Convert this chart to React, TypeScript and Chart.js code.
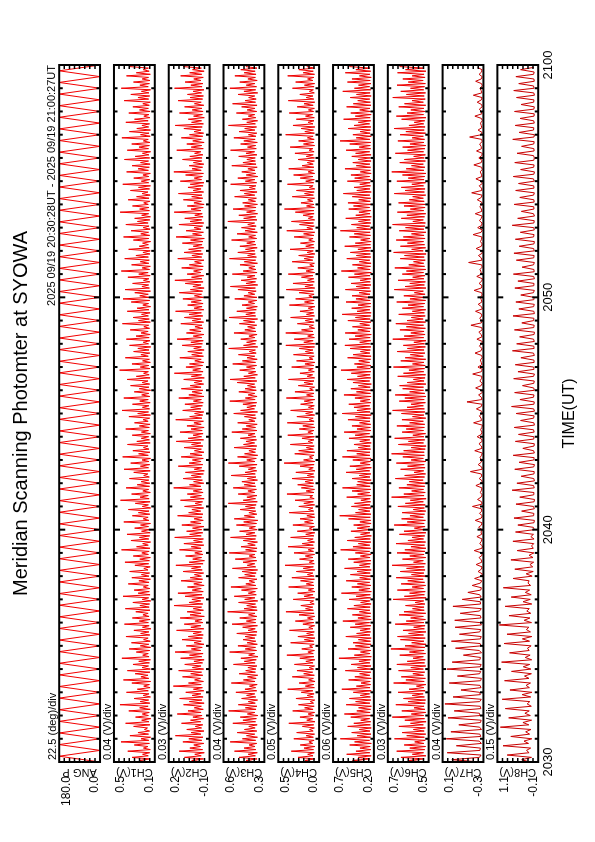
import React, { useEffect, useRef } from 'react';
import { Chart, registerables } from 'chart.js';

Chart.register(...registerables);

const FONT = '"Liberation Sans", Arial, Helvetica, sans-serif';

const TITLE = 'Meridian Scanning Photomter at SYOWA';
const PERIOD = '2025 09/19 20:30:28UT - 2025 09/19 21:00:27UT';
const TIME_AXIS_TITLE = 'TIME(UT)';

// time axis in minutes after 20:30 UT
const TIME_MIN = 0;
const TIME_MAX = 30;
const TIME_TICK_VALUES = [0, 10, 20, 30];
const TIME_TICK_LABELS = ['2030', '2040', '2050', '2100'];

const PANEL_NAMES = ['ANG P', 'CH1(V)', 'CH2(V)', 'CH3(V)', 'CH4(V)', 'CH5(V)', 'CH6(V)', 'CH7(V)', 'CH8(V)'];
const DIV_LABELS = ['22.5 (deg)/div', '0.04 (V)/div', '0.03 (V)/div', '0.04 (V)/div', '0.05 (V)/div', '0.06 (V)/div', '0.03 (V)/div', '0.04 (V)/div', '0.15 (V)/div'];
const AXIS_MIN = [0, 0.14, -0.06, 0.27, 0.04, 0.2, 0.5, -0.26, -0.1];
const AXIS_MAX = [180, 0.46, 0.18, 0.59, 0.44, 0.68, 0.74, 0.06, 1.1];
const TOP_LABELS = ['180.0', '0.5', '0.2', '0.6', '0.5', '0.7', '0.7', '0.1', '1.1'];
const BOTTOM_LABELS = ['0.0', '0.1', '-0.1', '0.3', '0.0', '0.2', '0.5', '-0.3', '-0.1'];
const Y_DIVS = 8;

// scan angle turning points, one every 15 s
const ANG_STEP_SEC = 15;
const ANG_DEG = [
  0,180,0,180,0,180,0,180,0,180,0,180,0,180,0,180,0,180,0,180,
  0,180,0,180,0,180,0,180,0,180,0,180,0,180,0,180,0,180,0,180,
  0,180,0,180,0,180,0,180,0,180,0,180,0,180,0,180,0,180,0,180,
  0,180,0,180,0,180,0,180,0,180,0,180,0,180,0,180,0,180,0,180,
  0,180,0,180,0,180,0,180,0,180,0,180,0,180,0,180,0,180,0,180,
  0,180,0,180,0,180,0,180,0,180,0,180,0,180,0,180,0,180,0,180,
  0,
];

// photometer channels in mV; CH1-CH6 sampled every 4 s, CH7-CH8 every 6 s
const CH_STEP_SEC = [4, 4, 4, 4, 4, 4, 6, 6];
const MV_TO_V = 0.001;

const CH1_MV = [
  184,263,177,318,191,236,180,352,175,229,194,301,182,405,187,248,173,335,189,272,181,221,197,306,178,369,186,243,172,291,
  190,238,183,344,176,259,192,413,179,255,188,303,174,231,185,362,191,277,177,227,182,320,173,386,187,249,193,294,178,355,
  175,240,189,311,182,266,174,398,185,235,191,285,180,341,173,254,187,323,176,228,192,366,179,251,186,304,171,237,184,378,
  190,262,177,316,185,233,192,289,178,371,184,257,181,312,172,239,188,389,177,271,183,302,179,230,191,348,185,265,174,320,
  186,245,181,337,193,226,176,296,188,374,182,258,175,309,190,242,184,401,178,283,191,235,173,327,187,261,180,358,176,244,
  182,298,189,252,174,383,186,231,192,316,179,269,185,347,173,238,190,293,177,409,184,256,191,322,175,234,188,365,181,278,
  179,247,187,339,183,227,194,305,176,381,189,253,180,329,186,240,174,392,191,267,178,312,185,229,193,354,176,281,182,246,
  188,317,175,245,190,368,183,261,177,299,192,232,180,343,174,274,189,397,181,237,186,315,176,258,191,383,179,243,187,301,
  173,262,186,330,180,239,193,357,177,285,184,228,190,416,178,254,187,319,175,236,182,371,191,249,179,306,185,273,172,338,
  189,231,178,363,184,287,176,248,192,333,181,226,188,394,175,268,183,310,190,244,177,356,186,279,173,234,189,325,180,389,
  185,258,191,297,174,373,182,241,188,314,179,229,186,351,176,266,192,403,181,239,175,322,187,254,183,376,190,288,178,233,
  176,345,184,262,190,236,173,308,187,385,180,250,189,326,177,231,185,367,192,276,179,298,174,243,188,412,182,259,186,315,
  191,227,179,349,185,283,176,240,193,331,181,268,174,391,188,246,180,305,187,233,175,361,190,271,183,318,177,252,189,378,
  180,294,186,237,173,356,189,264,182,321,178,230,191,398,176,252,185,339,174,281,188,241,181,367,192,299,179,226,186,344,
  177,260,190,312,183,234,175,380,188,272,180,328,186,245,173,403,191,257,182,307,178,239,189,362,175,285,184,231,190,336,
];

const CH2_MV = [
  -17,45,-24,88,-11,27,-29,119,-19,56,-7,33,-26,97,-14,62,-21,141,-9,49,-27,74,-13,24,-20,105,-8,52,-25,38,
  -16,130,-10,67,-23,30,-12,93,-28,59,-15,116,-22,43,-9,80,-26,35,-18,153,-11,64,-24,28,-7,99,-20,51,-13,122,
  -25,41,-10,86,-19,32,-28,110,-14,58,-22,143,-8,47,-17,77,-27,31,-11,102,-18,65,-23,37,-12,134,-26,50,-9,89,
  -21,26,-15,113,-29,55,-10,72,-24,36,-13,149,-20,61,-8,44,-27,84,-16,126,-23,42,-11,70,-28,33,-14,108,-19,54,
  -12,29,-25,96,-17,46,-9,138,-22,60,-30,39,-13,81,-21,27,-16,117,-10,48,-26,91,-18,34,-24,145,-11,57,-20,75,
  -14,40,-27,103,-10,52,-23,31,-16,128,-21,63,-8,44,-25,87,-13,25,-19,111,-28,53,-12,71,-22,36,-15,151,-9,58,
  -26,34,-18,95,-11,47,-24,82,-29,30,-14,124,-20,60,-10,41,-23,107,-16,55,-27,29,-12,90,-21,46,-9,136,-25,66,
  -13,37,-22,114,-17,49,-28,73,-11,32,-24,139,-15,57,-20,28,-26,98,-9,51,-18,85,-23,35,-12,121,-27,62,-14,43,
  -21,106,-10,54,-25,30,-16,92,-29,47,-13,147,-22,39,-8,79,-19,58,-26,27,-11,115,-24,45,-17,68,-28,33,-12,101,
  -18,50,-23,131,-14,36,-27,76,-10,57,-21,26,-15,109,-25,42,-9,88,-20,61,-12,140,-26,31,-16,69,-22,48,-11,97,
  -24,29,-13,118,-19,53,-28,38,-10,83,-22,144,-15,46,-26,72,-9,34,-18,104,-23,59,-12,28,-27,127,-14,44,-20,90,
  -11,63,-25,36,-16,100,-21,52,-29,137,-13,40,-24,78,-10,31,-19,120,-26,55,-14,86,-22,27,-17,148,-9,49,-23,71,
  -28,32,-12,94,-20,45,-15,123,-25,37,-10,67,-22,54,-27,112,-13,30,-18,81,-24,150,-11,43,-19,60,-26,35,-14,99,
  -16,56,-21,28,-9,133,-23,48,-14,74,-28,39,-12,106,-20,58,-25,31,-10,91,-17,142,-24,46,-13,65,-29,34,-18,117,
  -22,42,-15,87,-26,29,-11,125,-19,55,-24,70,-13,37,-27,146,-16,50,-21,84,-9,33,-23,110,-14,57,-28,40,-12,95,
];

const CH3_MV = [
  334,413,327,469,340,397,325,504,337,429,343,390,330,538,338,442,324,410,345,483,329,426,342,392,326,517,339,438,332,459,
  321,403,344,550,335,419,328,474,341,396,323,448,337,409,345,493,330,422,338,387,326,529,343,434,334,402,322,468,340,416,
  336,399,328,512,342,427,333,454,320,393,346,542,331,420,339,477,325,405,337,437,344,421,332,486,327,398,341,440,324,523,
  338,411,335,463,329,394,343,558,326,429,331,408,339,472,322,424,344,506,333,396,340,449,325,532,337,415,346,390,328,472,
  342,424,334,445,323,520,338,404,345,437,330,498,336,389,343,545,332,417,327,453,341,400,324,435,339,535,333,413,344,464,
  326,389,340,489,331,432,321,506,346,427,329,391,337,460,342,418,334,553,325,436,339,407,328,475,345,399,332,514,338,428,
  343,446,324,403,336,530,341,421,330,396,338,467,327,552,344,408,333,480,322,425,340,391,335,507,329,433,346,414,331,458,
  337,398,343,525,328,443,339,412,326,479,344,392,334,426,340,510,323,456,347,407,336,438,330,541,342,419,327,397,345,470,
  333,421,338,402,346,483,329,539,341,431,324,395,337,463,343,410,331,518,339,442,326,406,345,473,334,388,340,549,322,433,
  339,409,332,455,344,391,327,508,336,423,342,401,330,466,345,433,323,547,338,415,341,486,333,410,325,445,346,396,329,502,
  328,430,345,397,334,477,340,536,322,414,339,452,331,404,343,521,327,436,336,392,344,461,324,427,338,543,332,401,341,478,
  345,418,326,462,337,408,343,527,330,393,339,484,325,421,342,449,334,400,346,556,328,432,337,470,323,409,340,515,335,425,
  324,440,339,396,332,503,345,427,327,461,341,388,336,534,330,419,344,478,322,412,338,447,343,399,326,525,335,438,340,407,
  341,471,328,414,346,535,333,402,338,456,325,431,342,509,336,395,329,468,344,424,331,551,340,408,323,442,337,396,345,489,
  330,405,343,448,327,519,339,421,334,393,345,476,322,430,338,540,331,412,344,463,326,399,340,501,335,428,342,455,328,415,
];

const CH4_MV = [
  91,177,84,247,100,152,87,313,95,188,82,225,103,140,89,288,96,167,85,260,98,134,86,204,93,337,81,161,102,228,
  90,148,84,299,99,182,88,242,94,126,83,267,97,157,89,215,101,348,86,175,92,236,80,143,96,303,87,191,103,257,
  94,138,85,282,99,170,82,229,91,356,97,150,86,210,102,133,88,319,93,185,81,248,95,162,87,330,100,141,84,199,
  92,273,98,154,83,237,89,365,96,173,102,219,88,130,94,294,85,187,99,250,82,146,93,339,90,166,97,222,86,307,
  89,155,101,263,83,196,96,374,87,137,92,232,100,175,84,286,95,148,88,344,97,206,85,153,98,319,91,171,82,254,
  103,136,86,297,94,183,99,227,83,160,87,333,93,144,100,239,84,190,96,276,88,131,102,355,90,167,85,214,98,250,
  92,178,99,305,87,156,94,268,81,142,97,227,89,383,83,192,101,135,91,279,84,240,96,165,88,322,103,148,90,208,
  86,347,100,150,92,234,82,200,95,352,89,139,98,258,84,172,102,319,93,145,87,221,99,186,83,361,97,163,90,277,
  96,133,85,244,101,188,90,340,84,157,103,228,87,145,97,309,91,179,82,261,99,138,88,291,94,175,100,235,85,366,
  83,190,98,284,86,152,93,367,100,212,84,138,96,253,89,176,103,319,85,164,92,228,97,147,81,331,95,183,88,270,
  101,141,89,236,95,362,83,179,98,296,87,154,92,213,100,342,84,168,96,249,90,132,86,304,102,187,93,240,82,158,
  97,325,88,171,94,223,85,142,99,285,91,192,83,357,101,160,87,232,95,311,84,146,98,197,89,273,92,380,86,163,
  90,218,102,154,85,303,96,183,88,262,83,137,99,350,93,171,87,225,100,290,84,148,95,338,91,207,98,156,86,246,
  85,166,97,277,89,139,101,324,84,193,93,241,88,155,99,368,86,180,95,216,82,296,100,149,90,263,87,173,103,333,
  94,145,86,255,98,188,83,342,92,167,100,229,87,136,96,301,89,184,84,270,101,153,91,348,85,196,97,239,88,161,
];

const CH5_MV = [
  237,451,245,386,232,520,248,411,235,364,243,485,230,427,250,595,239,397,234,461,246,373,231,508,242,436,237,355,249,472,
  233,547,244,401,238,380,230,526,247,415,235,488,241,360,250,442,232,577,245,406,238,351,243,497,231,424,248,368,236,536,
  242,393,234,467,247,376,239,611,230,430,245,358,237,504,249,418,233,445,240,382,231,530,246,403,238,362,243,478,235,420,
  250,565,232,388,241,453,236,371,247,511,244,435,233,356,248,492,237,409,242,582,230,377,246,460,235,394,249,526,239,367,
  236,476,243,398,231,545,247,370,240,437,234,502,245,359,232,418,250,591,238,446,248,383,235,514,241,425,230,357,246,470,
  237,396,249,438,233,365,237,498,242,602,234,416,247,380,231,464,245,428,238,353,243,520,233,391,249,457,236,569,244,402,
  240,391,232,456,246,372,235,527,249,408,230,483,244,361,239,448,233,570,247,402,245,517,238,384,243,434,231,366,248,493,
  236,421,250,550,234,399,241,458,237,369,246,505,243,417,231,573,245,399,239,434,249,495,236,360,245,423,233,552,240,405,
  232,471,243,382,230,446,249,514,237,393,244,466,236,587,242,400,234,429,250,378,238,509,233,444,247,358,241,480,235,541,
  248,367,236,492,243,421,231,538,246,389,239,452,250,366,234,506,244,417,237,573,232,398,247,461,240,386,235,528,243,411,
  230,457,245,374,238,535,249,409,234,468,242,362,237,499,246,429,231,583,244,392,239,452,233,372,248,519,236,406,241,477,
  247,388,235,543,240,419,232,356,246,487,239,431,244,594,233,402,249,464,236,381,242,531,230,413,245,376,237,496,250,440,
  234,505,243,379,237,454,248,559,231,401,246,433,239,366,244,512,235,426,250,470,232,360,241,540,238,407,247,448,233,385,
  245,460,233,415,249,527,238,373,242,484,236,598,247,408,231,447,244,362,240,503,235,433,250,384,237,556,243,419,232,472,
  239,367,246,521,234,442,241,390,248,478,232,405,244,566,237,429,250,381,235,511,243,458,231,370,247,536,238,412,245,489,
];

const CH6_MV = [
  521,617,527,663,516,596,530,688,523,611,518,644,528,582,520,701,525,629,517,656,526,590,519,675,531,607,515,640,524,714,
  529,602,517,658,522,586,527,693,520,621,518,648,525,597,532,680,521,615,528,572,516,706,526,634,519,661,530,593,523,677,
  531,605,517,687,524,626,520,592,531,670,518,613,527,722,522,639,515,600,528,666,520,683,530,618,516,651,525,588,521,697,
  528,632,519,606,531,674,517,645,526,595,527,636,522,580,529,709,515,643,525,612,520,684,530,597,518,662,524,623,532,691,
  515,601,528,667,521,630,526,715,519,589,531,654,517,611,527,686,522,640,516,604,524,692,518,622,530,598,523,672,516,645,
  529,584,521,703,526,626,519,659,531,610,524,656,517,591,525,681,520,637,531,608,515,718,527,646,520,600,530,675,523,628,
  519,614,532,696,524,641,518,586,529,665,521,624,526,690,517,603,531,652,525,718,526,647,520,603,515,678,530,619,523,700,
  528,593,518,656,530,632,525,687,523,612,531,657,517,595,528,660,522,712,525,627,531,604,519,673,526,640,516,697,523,612,
  530,653,530,671,516,626,527,590,521,682,518,648,529,616,524,707,520,595,528,664,517,638,531,608,522,685,527,625,519,649,
  524,587,516,711,529,644,521,605,527,669,519,631,530,693,518,627,532,602,520,676,525,596,517,655,530,621,523,688,518,610,
  527,646,521,584,531,702,516,639,525,611,519,680,528,594,522,655,530,631,517,699,524,617,529,589,520,667,526,642,515,706,
  532,600,518,666,524,625,530,691,521,649,527,601,516,673,528,636,522,712,519,593,531,661,524,628,517,684,529,608,521,645,
  520,677,526,614,531,594,517,702,525,639,521,661,530,599,518,687,527,620,523,654,516,717,528,632,522,601,531,670,519,643,
  526,588,519,696,530,624,522,653,517,610,528,681,524,597,531,668,518,634,526,703,521,616,529,585,523,659,516,690,530,627,
  522,605,528,676,517,642,531,598,520,711,526,631,518,664,529,607,524,686,519,620,532,652,521,597,527,683,516,636,530,671,
];

const CH7_MV = [
  -238,-12,-229,-241,24,-233,-236,-48,-244,-227,31,-239,-232,-5,-245,-230,-67,-237,-242,18,
  -234,-228,-31,-240,-235,42,-231,-243,-22,-236,-229,-84,-241,-233,8,-238,-244,-56,-230,-239,
  27,-235,-242,-15,-232,-237,-103,-245,-228,-41,-240,-234,-9,-236,-243,-72,-231,-239,-38,-244,
  -233,-35,-241,-236,-78,-230,-243,-21,-238,-235,-94,-242,-231,-138,-239,-244,-172,-236,-247,-191,
  -246,-251,-218,-244,-249,-203,-247,-243,-226,-250,-245,-188,-248,-252,-231,-244,-249,-209,-246,-241,
  -250,-222,-245,-248,-196,-243,-251,-229,-247,-244,-174,-249,-246,-214,-242,-250,-236,-245,-248,-201,
  -244,-251,-227,-247,-243,-158,-250,-246,-219,-242,-249,-233,-245,-251,-192,-248,-244,-225,-250,-246,
  -211,-243,-249,-238,-247,-252,-183,-245,-241,-228,-250,-246,-205,-243,-249,-131,-247,-244,-222,-251,
  -246,-199,-242,-250,-232,-245,-248,-176,-244,-251,-217,-247,-243,-236,-250,-246,-194,-241,-249,-228,
  -245,-252,-209,-248,-243,-224,-250,-246,-162,-244,-249,-231,-247,-242,-198,-251,-245,-219,-248,-243,
  -236,-250,-246,-187,-243,-249,-226,-247,-252,-208,-245,-241,-233,-250,-246,-144,-248,-243,-221,-251,
  -247,-203,-244,-250,-237,-245,-248,-179,-242,-251,-215,-246,-249,-229,-243,-250,-196,-247,-244,-232,
  -250,-246,-212,-243,-249,-168,-247,-245,-227,-251,-242,-201,-248,-244,-235,-250,-246,-185,-243,-249,
  -224,-247,-251,-206,-245,-242,-230,-250,-246,-152,-244,-249,-218,-247,-243,-237,-251,-245,-193,-248,
  -243,-228,-250,-246,-211,-244,-249,-181,-247,-242,-233,-251,-245,-199,-243,-250,-226,-246,-248,-214,
];

const CH8_MV = [
  142,386,97,812,168,243,121,934,185,317,88,705,153,268,112,1012,176,349,94,768,
  131,291,163,867,102,224,147,958,119,372,84,731,158,256,126,889,171,303,99,684,
  115,338,149,976,92,281,137,742,166,215,108,903,154,366,87,817,128,247,173,1041,
  96,312,143,759,118,236,161,872,89,345,132,693,105,278,152,925,123,201,167,638,
  78,254,46,587,61,143,34,702,52,168,27,519,44,96,31,643,22,117,38,566,
  18,41,498,23,12,612,35,27,387,14,39,553,21,8,442,31,25,667,16,37,
  526,11,29,401,24,17,589,33,9,463,28,20,636,13,36,352,22,15,571,30,
  26,479,19,38,604,12,27,418,34,21,548,10,32,683,25,16,437,39,23,592,
  14,31,361,28,17,621,36,11,495,24,33,574,19,26,409,13,38,657,20,29,
  533,15,37,446,22,10,598,30,18,382,35,25,641,12,28,469,34,16,557,27,
  21,412,39,14,586,29,23,497,11,34,629,19,26,374,37,13,542,31,20,613,
  18,33,458,25,12,571,36,22,426,15,30,664,27,17,503,10,38,395,24,31,
  607,19,28,441,35,14,562,23,32,478,16,39,632,26,11,417,33,21,589,29,
  13,36,522,20,27,389,31,18,648,24,12,461,37,29,575,15,34,432,22,17,
  596,28,14,404,33,25,537,11,30,619,21,38,472,16,27,556,35,19,418,26,
];

const CH_SERIES_MV = [CH1_MV, CH2_MV, CH3_MV, CH4_MV, CH5_MV, CH6_MV, CH7_MV, CH8_MV];
const LINE_COLORS = ['#f20000', '#f20000', '#f20000', '#ee0000', '#ee0000', '#ee0000', '#ee0000', '#c80000', '#c80000'];

const panelPlugin = {
  id: 'msp-panels',
  afterDatasetsDraw(chart: any) {
    const { ctx, chartArea, scales } = chart;
    const xs = scales.x;
    const left = chartArea.left;
    const right = chartArea.right;
    ctx.save();
    for (let i = 0; i < PANEL_NAMES.length; i++) {
      const ys = scales['y' + i];
      const top = ys.top;
      const bottom = ys.bottom;
      ctx.strokeStyle = '#000';
      // value-axis ticks, inward on both sides
      ctx.lineWidth = 1.5;
      ctx.beginPath();
      for (let k = 1; k < Y_DIVS; k++) {
        const v = ys.min + ((ys.max - ys.min) * k) / Y_DIVS;
        const y = ys.getPixelForValue(v);
        ctx.moveTo(left, y);
        ctx.lineTo(left + 4, y);
        ctx.moveTo(right - 4, y);
        ctx.lineTo(right, y);
      }
      ctx.stroke();
      // time ticks every minute, longer every 10 minutes
      ctx.lineWidth = 2;
      ctx.beginPath();
      for (let m = TIME_MIN + 1; m < TIME_MAX; m++) {
        const x = xs.getPixelForValue(m);
        const len = m % 10 === 0 ? 6 : 3.5;
        ctx.moveTo(x, top);
        ctx.lineTo(x, top + len);
        ctx.moveTo(x, bottom - len);
        ctx.lineTo(x, bottom);
      }
      ctx.stroke();
      // frame
      ctx.lineWidth = 2;
      ctx.strokeRect(left, top, right - left, bottom - top);

      // texts
      ctx.fillStyle = '#000';
      ctx.font = '11px ' + FONT;
      ctx.textAlign = 'left';
      ctx.textBaseline = 'alphabetic';
      ctx.fillText(DIV_LABELS[i], left + 2, top - 3);

      ctx.font = '12px ' + FONT;
      ctx.textAlign = 'right';
      ctx.textBaseline = 'top';
      ctx.fillText(TOP_LABELS[i], left - 14, top + 1);
      ctx.textBaseline = 'bottom';
      ctx.fillText(BOTTOM_LABELS[i], left - 14, bottom + 1);

      ctx.font = '11px ' + FONT;
      ctx.save();
      ctx.translate(left - 10, (top + bottom) / 2);
      ctx.rotate(-Math.PI / 2);
      ctx.textAlign = 'center';
      ctx.textBaseline = 'middle';
      ctx.fillText(PANEL_NAMES[i], 0, 0);
      ctx.restore();
    }
    ctx.restore();
  },
};

function buildConfig(): any {
  const datasets: any[] = [];
  datasets.push({
    label: PANEL_NAMES[0],
    data: ANG_DEG.map((v, i) => ({ x: TIME_MIN + (i * ANG_STEP_SEC) / 60, y: v })),
    yAxisID: 'y0',
    borderColor: LINE_COLORS[0],
    borderWidth: 1,
    pointRadius: 0,
    tension: 0,
  });
  CH_SERIES_MV.forEach((arr, k) => {
    datasets.push({
      label: PANEL_NAMES[k + 1],
      data: arr.map((v, i) => ({ x: TIME_MIN + (i * CH_STEP_SEC[k]) / 60, y: v * MV_TO_V })),
      yAxisID: 'y' + (k + 1),
      borderColor: LINE_COLORS[k + 1],
      borderWidth: 1,
      pointRadius: 0,
      tension: 0,
    });
  });

  const scales: any = {
    x: {
      type: 'linear',
      position: 'bottom',
      min: TIME_MIN,
      max: TIME_MAX,
      afterBuildTicks: (axis: any) => {
        axis.ticks = TIME_TICK_VALUES.map((v) => ({ value: v }));
      },
      ticks: {
        autoSkip: false,
        maxRotation: 0,
        padding: 2,
        color: '#000',
        font: { family: FONT, size: 13 },
        callback: (value: any) => {
          const idx = TIME_TICK_VALUES.indexOf(Number(value));
          return idx >= 0 ? TIME_TICK_LABELS[idx] : '';
        },
      },
      grid: { display: false, drawTicks: false },
      border: { display: false },
      title: {
        display: true,
        text: TIME_AXIS_TITLE,
        color: '#000',
        font: { family: FONT, size: 16 },
        padding: { top: 2, bottom: 0 },
      },
    },
  };
  for (let i = 0; i < PANEL_NAMES.length; i++) {
    scales['y' + i] = {
      type: 'linear',
      display: false,
      position: 'left',
      stack: 'panels',
      stackWeight: 41,
      weight: 100 - 2 * i,
      min: AXIS_MIN[i],
      max: AXIS_MAX[i],
    };
    if (i < PANEL_NAMES.length - 1) {
      scales['gap' + i] = {
        type: 'linear',
        display: false,
        position: 'left',
        stack: 'panels',
        stackWeight: 14,
        weight: 100 - 2 * i - 1,
      };
    }
  }

  return {
    type: 'line',
    data: { datasets },
    options: {
      animation: false,
      responsive: false,
      devicePixelRatio: 1,
      events: [],
      layout: { padding: { left: 80, right: 65, top: 0, bottom: 16 } },
      plugins: {
        legend: { display: false },
        tooltip: { enabled: false },
        title: {
          display: true,
          text: TITLE,
          color: '#000',
          font: { family: FONT, size: 20, weight: 'normal' },
          padding: { top: 9, bottom: 12 },
        },
        subtitle: {
          display: true,
          text: PERIOD,
          align: 'end',
          color: '#000',
          font: { family: FONT, size: 11, weight: 'normal' },
          padding: { top: 0, bottom: 1 },
        },
      },
      scales,
    },
    plugins: [panelPlugin],
  };
}

export default function App() {
  const canvasRef = useRef<HTMLCanvasElement>(null);
  useEffect(() => {
    const canvas = canvasRef.current;
    if (!canvas) return;
    const chart = new Chart(canvas, buildConfig());
    return () => {
      chart.destroy();
    };
  }, []);
  return (
    <div
      style={{
        position: 'absolute',
        left: 0,
        top: 0,
        width: 842,
        height: 595,
        background: '#fff',
        transform: 'translate(0px, 842px) rotate(-90deg)',
        transformOrigin: '0 0',
      }}
    >
      <canvas ref={canvasRef} width={842} height={595} style={{ display: 'block', width: 842, height: 595 }} />
    </div>
  );
}
